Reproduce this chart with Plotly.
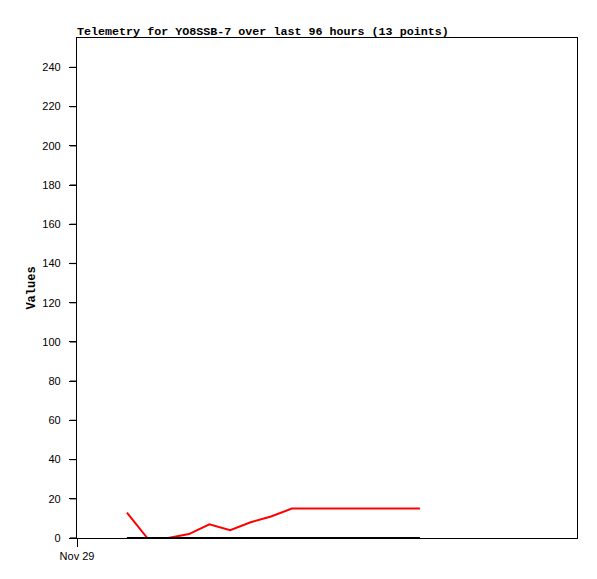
import plotly.graph_objects as go

times = ["2024-11-29 09:35", "2024-11-29 13:30", "2024-11-29 17:30", "2024-11-29 21:30",
         "2024-11-30 01:25", "2024-11-30 05:25", "2024-11-30 09:20", "2024-11-30 13:15",
         "2024-11-30 17:15", "2024-11-30 23:25", "2024-12-01 05:35", "2024-12-01 11:40",
         "2024-12-01 17:50"]
red_values = [13, 0, 0, 2, 7, 4, 8, 11, 15, 15, 15, 15, 15]
black_values = [0, 0, 0, 0, 0, 0, 0, 0, 0, 0, 0, 0, 0]
y_ticks = list(range(0, 241, 20))
y_tick_text = [str(v) + "\u00a0\u00a0" for v in y_ticks]
x_tick_vals = ["2024-11-29 00:00"]
x_tick_text = ["Nov 29"]
title_text = "Telemetry for YO8SSB-7 over last 96 hours (13 points)"

fig = go.Figure()
fig.add_trace(go.Scatter(x=times, y=red_values, mode="lines",
                         line=dict(color="#ff0000", width=2), showlegend=False))
fig.add_trace(go.Scatter(x=times, y=black_values, mode="lines",
                         line=dict(color="#000000", width=2), showlegend=False))

# tick marks drawn as short lines outside the plot area
for v in y_ticks:
    fig.add_shape(type="line", xref="paper", yref="y", x0=-0.014, x1=0, y0=v, y1=v,
                  line=dict(color="black", width=1.2), layer="above")
for t in x_tick_vals:
    fig.add_shape(type="line", xref="x", yref="paper", x0=t, x1=t, y0=-0.016, y1=0,
                  line=dict(color="black", width=1), layer="above")

fig.update_layout(
    width=597, height=579,
    margin=dict(l=69, r=28, t=30, b=49),
    paper_bgcolor="white", plot_bgcolor="white",
    title=dict(text="<b>" + title_text + "</b>", x=0, xref="paper", xanchor="left",
               yref="container", y=1 - 23 / 579, yanchor="middle",
               font=dict(family="Liberation Mono", size=11.7, color="black")),
    font=dict(family="Liberation Sans", size=11, color="black"),
)
fig.update_xaxes(type="date", range=["2024-11-29 00:00", "2024-12-03 00:00"],
                 tickvals=x_tick_vals, ticktext=x_tick_text,
                 showgrid=False, zeroline=False, showline=True, mirror=True,
                 linecolor="black", linewidth=1, ticks="outside", ticklen=8,
                 tickcolor="black",
                 tickfont=dict(family="Liberation Sans", size=11))
fig.update_yaxes(range=[0, 255], tickvals=y_ticks, ticktext=y_tick_text,
                 showgrid=False, zeroline=False, showline=True, mirror=True,
                 linecolor="black", linewidth=1, ticks="outside", ticklen=7,
                 tickcolor="black",
                 tickfont=dict(family="Liberation Sans", size=11),
                 title=dict(text="<b>Values</b>", standoff=4,
                            font=dict(family="Liberation Mono", size=12)))

fig.write_html("out.html")
